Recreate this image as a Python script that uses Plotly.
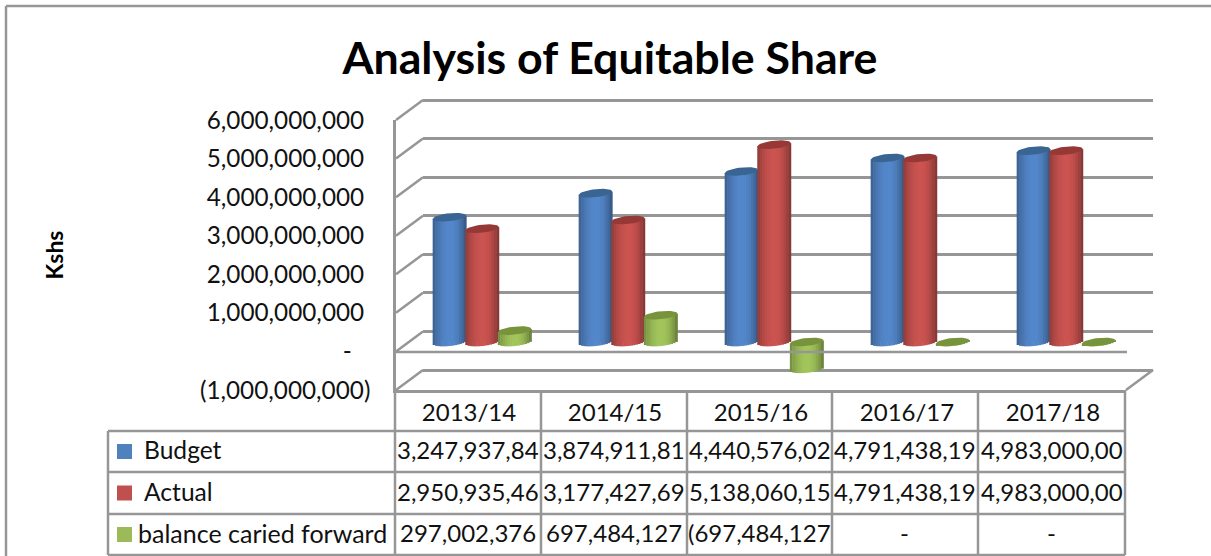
import plotly.graph_objects as go
import numpy as np

W, H = 1211, 556
FONT = "Lato"
INK = "#111111"
GRID = "#969696"

title_text = "Analysis of Equitable Share"
y_title = "Kshs"
categories = ["2013/14", "2014/15", "2015/16", "2016/17", "2017/18"]
budget = [3247937840, 3874911810, 4440576020, 4791438190, 4983000000]
actual = [2950935460, 3177427690, 5138060150, 4791438190, 4983000000]
balance = [297002376, 697484127, -697484127, 0, 0]
budget_cells = ["3,247,937,84", "3,874,911,81", "4,440,576,02", "4,791,438,19", "4,983,000,00"]
actual_cells = ["2,950,935,46", "3,177,427,69", "5,138,060,15", "4,791,438,19", "4,983,000,00"]
balance_cells = ["297,002,376", "697,484,127", "(697,484,127", "-", "-"]
y_ticks = [-1e9, 0, 1e9, 2e9, 3e9, 4e9, 5e9, 6e9]
y_labels = ["(1,000,000,000)", "-\u00a0\u00a0\u00a0", "1,000,000,000\u00a0", "2,000,000,000\u00a0",
            "3,000,000,000\u00a0", "4,000,000,000\u00a0", "5,000,000,000\u00a0", "6,000,000,000\u00a0"]
series_names = ["Budget", "Actual", "balance caried forward"]
series_values = [budget, actual, balance]
series_cells = [budget_cells, actual_cells, balance_cells]
swatch = ["#4F81BD", "#C0504D", "#9BBB59"]
body_rgb = [(84, 136, 204), (204, 84, 81), (163, 198, 92)]
cap_col = ["#3A6593", "#953836", "#77933C"]

# pixel geometry of the pseudo-3D box
PX_PER_UNIT = 38.4 / 1e9          # bar plane vertical scale
PX_PER_CAT = 146.0
BAR_ZERO_PX = 342.0
BAR_TOP_PX, BAR_BOT_PX = 100.0, 392.0
CYL_W = 33.5
CYL_STEP = 32.6
CAP_B, CAP_TILT = 4.0, 1.7
N_STRIP = 14


def px(x):
    return x / W


def py(y):
    return 1 - y / H


def shade(t):
    # brightness across a cylinder, t from -1 (left) to 1 (right)
    if t < 0.05:
        return 0.70 + 0.30 * (1 - ((0.05 - t) / 1.05) ** 2)
    return 0.62 + 0.38 * (1 - ((t - 0.05) / 0.95) ** 2)


fig = go.Figure()
xs = list(range(len(categories)))
units_x = 1 / PX_PER_CAT
units_y = 1 / PX_PER_UNIT
edges = np.linspace(-1, 1, N_STRIP + 1)

for s, (name, vals) in enumerate(zip(series_names, series_values)):
    centre = (s - 1) * CYL_STEP
    # the value bar itself
    fig.add_trace(go.Bar(
        x=xs, y=vals, name=name, xaxis="x2", yaxis="y2", showlegend=False,
        width=0.8 * CYL_W * units_x, offset=(centre - 0.4 * CYL_W) * units_x,
        marker=dict(color=swatch[s], line=dict(width=0)),
        hovertemplate=name + ": %{y:,}<extra></extra>"))
    # cylinder shading: narrow bars that follow the rounded base
    for k in range(N_STRIP):
        t = (edges[k] + edges[k + 1]) / 2
        f = shade(t)
        r, g, b = [int(c * f) for c in body_rgb[s]]
        low = -(CAP_B * np.sqrt(max(1 - t * t, 0)) - CAP_TILT * t) * units_y
        up = CAP_TILT * t * units_y
        tops = [max(v, 0) + up for v in vals]
        bases = [min(v, 0) + low for v in vals]
        left = centre + edges[k] * CYL_W / 2
        fig.add_trace(go.Bar(
            x=xs, y=[a - c for a, c in zip(tops, bases)], base=bases,
            xaxis="x2", yaxis="y2", showlegend=False, hoverinfo="skip",
            width=(CYL_W / N_STRIP + 0.5) * units_x, offset=left * units_x,
            marker=dict(color=f"rgb({r},{g},{b})", line=dict(width=0))))

for s, vals in enumerate(series_values):
    centre = (s - 1) * CYL_STEP
    th = np.linspace(0, 2 * np.pi, 41)
    ex, ey = [], []
    for i, v in zip(xs, vals):
        tt = np.cos(th)
        ex += list(i + (centre + tt * CYL_W / 2) * units_x) + [None]
        ey += list(max(v, 0) + (CAP_B * np.sin(th) + CAP_TILT * tt) * units_y) + [None]
    fig.add_trace(go.Scatter(x=ex, y=ey, xaxis="x2", yaxis="y2", mode="lines", fill="toself",
                             fillcolor=cap_col[s], line=dict(width=0), showlegend=False,
                             hoverinfo="skip"))

# keep the wall and front subplots alive
fig.add_trace(go.Scatter(x=[], y=[], xaxis="x", yaxis="y", showlegend=False))
fig.add_trace(go.Scatter(x=[], y=[], xaxis="x3", yaxis="y3", showlegend=False))

line = dict(color=GRID, width=2.5)
shapes = []


def seg(x0, y0, x1, y1, layer="above", ln=None):
    shapes.append(dict(type="line", xref="paper", yref="paper", x0=px(x0), y0=py(y0),
                       x1=px(x1), y1=py(y1), line=ln or line, layer=layer))


# outer chart frame
seg(6, 6, W, 6)
seg(6, 6, 6, H)

# side wall diagonals for each tick
FRONT_TOP, FRONT_BOT = 120.0, 390.0
BACK_TOP, BACK_BOT = 100.0, 370.0
for j in range(len(y_ticks)):
    f = j / (len(y_ticks) - 1)
    seg(396, FRONT_TOP + f * (FRONT_BOT - FRONT_TOP), 423, BACK_TOP + f * (BACK_BOT - BACK_TOP), "below")
# floor front edge at zero and right floor edge
seg(396, 352, 1127, 352)
seg(1126, 390, 1153, 370)

# data table
col_x = [395, 541, 687, 832, 978, 1125]
row_y = [431, 472, 514, 555]
for x in col_x:
    seg(x, 390, x, 555)
seg(108, 431, 108, 555)
for y in row_y:
    seg(108, y, 1125, y)

annotations = []
TXT = 24
name_x = [145, 145, 139]
name_size = [24.6, 24.6, 25]
for r in range(3):
    cy = (row_y[r] + row_y[r + 1]) / 2
    shapes.append(dict(type="rect", xref="paper", yref="paper", x0=px(117), x1=px(132),
                       y0=py(cy - 7.5), y1=py(cy + 7.5), fillcolor=swatch[r], line=dict(width=0)))
    annotations.append(dict(text=series_names[r], xref="paper", yref="paper", x=px(name_x[r] - 3), y=py(cy - 2),
                            xanchor="left", yanchor="middle", showarrow=False,
                            font=dict(family=FONT, size=name_size[r], color=INK)))
    for c in range(5):
        annotations.append(dict(text=series_cells[r][c], xref="paper", yref="paper",
                                x=px((col_x[c] + col_x[c + 1]) / 2), y=py(cy - 2),
                                xanchor="center", yanchor="middle", showarrow=False,
                                font=dict(family=FONT, size=TXT, color=INK)))

bar_range = [-(BAR_BOT_PX - BAR_ZERO_PX) * units_y, (BAR_ZERO_PX - BAR_TOP_PX) * units_y]

# the back wall runs slightly past its end ticks so the end gridlines are drawn
WALL_PAD = 10.0
wall_scale = (BACK_BOT - BACK_TOP) / (y_ticks[-1] - y_ticks[0])
wall_range = [y_ticks[0] - WALL_PAD / wall_scale, y_ticks[-1] + WALL_PAD / wall_scale]

fig.update_layout(
    width=W, height=H, autosize=False,
    margin=dict(l=0, r=0, t=0, b=0, pad=0, autoexpand=False),
    paper_bgcolor="white", plot_bgcolor="rgba(0,0,0,0)",
    barmode="overlay",
    showlegend=False,
    title=dict(text=f"<b>{title_text}</b>", x=px(610), xref="paper", xanchor="center",
               y=py(58), yref="paper", yanchor="middle",
               font=dict(family=FONT, size=44.7, color="#000000")),
    shapes=shapes, annotations=annotations,
    # back wall with its gridlines
    xaxis=dict(domain=[px(423), px(1153)], range=[0, 1], anchor="y", showticklabels=False,
               showgrid=False, zeroline=False, showline=False, ticks=""),
    yaxis=dict(domain=[py(BACK_BOT + WALL_PAD), py(BACK_TOP - WALL_PAD)], range=wall_range, anchor="x",
               tickvals=y_ticks, showticklabels=False, ticks="", showgrid=True,
               gridcolor=GRID, gridwidth=2.5, zeroline=False, showline=False),
    # plane in which the cylinders stand
    xaxis2=dict(domain=[px(409), px(1139)], range=[-0.5, 4.5], anchor="y2", visible=False),
    yaxis2=dict(domain=[py(BAR_BOT_PX), py(BAR_TOP_PX)], range=bar_range, anchor="x2", visible=False),
    # front axes that carry the labels
    xaxis3=dict(domain=[px(396), px(1126)], range=[-0.5, 4.5], anchor="y3",
                tickvals=xs, ticktext=categories, ticks="", showgrid=False, zeroline=False,
                showline=True, linecolor=GRID, linewidth=2.5, ticklabelstandoff=-1,
                tickfont=dict(family=FONT, size=TXT, color=INK)),
    yaxis3=dict(domain=[py(FRONT_BOT), py(FRONT_TOP)], range=[y_ticks[0], y_ticks[-1]], anchor="x3",
                tickvals=y_ticks, ticktext=y_labels, ticks="", showgrid=False, zeroline=False,
                showline=True, linecolor=GRID, linewidth=2.5, ticklabelstandoff=18,
                tickfont=dict(family=FONT, size=24.3, color=INK),
                title=dict(text=f"<b>{y_title}</b>", standoff=130,
                           font=dict(family=FONT, size=23, color="#000000"))),
)

fig.write_html("out.html", config={"displayModeBar": False},
               post_script="document.body.style.margin='0';document.body.style.overflow='hidden';")
